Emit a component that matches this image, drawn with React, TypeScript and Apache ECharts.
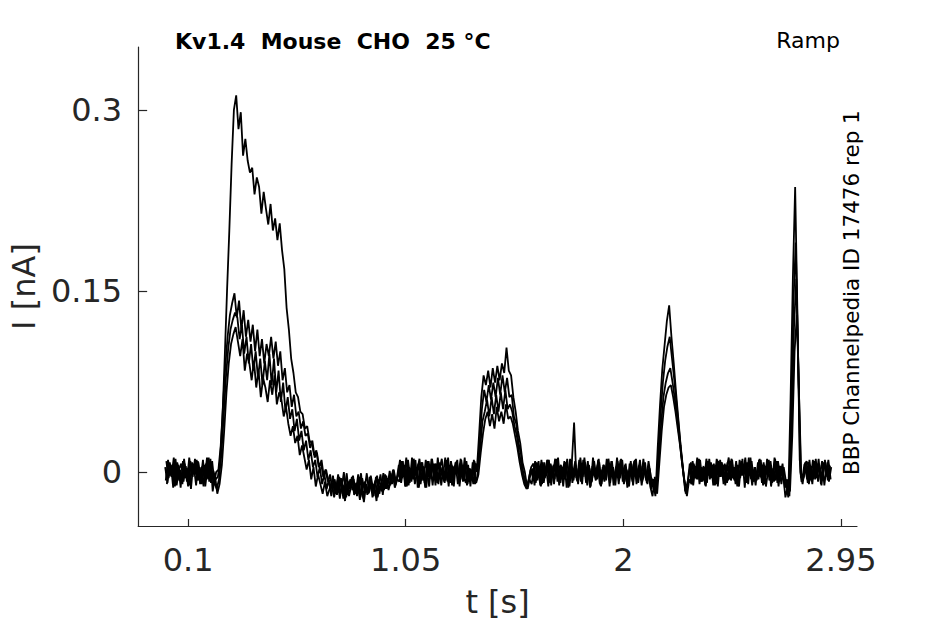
import React, { useEffect, useRef } from "react";
import * as echarts from "echarts";

// ---- axis ticks & labels ----
const X_TICKS = [0.1, 1.05, 2, 2.95];
const Y_TICKS = [0, 0.15, 0.3];
const X_MIN = -0.118;
const X_MAX = 3.02;
const Y_MIN = -0.0447;
const Y_MAX = 0.352;

const TITLE = "Kv1.4  Mouse  CHO  25 °C";
const PROTOCOL = "Ramp";
const SOURCE = "BBP Channelpedia ID 17476 rep 1";
const X_NAME = "t [s]";
const Y_NAME = "I [nA]";

// ---- acquisition timing (s) ----
const SAMPLE_STEP = 0.01;
const SWEEP_START = [0, 0.0025, 0.005, 0.0075];
// start time of each recorded stretch: pre, ramp-1, post-1, base, ramp-2, base, ramp-3, base, ramp-4, tail
const SEGMENT_START = [0, 0.23, 0.72, 1.02, 1.36, 1.6, 2.13, 2.29, 2.71, 2.8];

// ---- current (pA) read from the recording, one list of stretches per sweep ----
const SWEEP_1_PA = [
  [4, -9, 8, -3, 10, -11, 2, 7, -8, 5, -12, 9, -4, 11, -7, 3, -10, 6, -5, 12, -9, 1, -6],
  [-4, 10, 45, 95, 150, 200, 255, 300, 312, 284, 298, 262, 276, 258, 248, 252, 230, 244, 236, 214,
    232, 218, 205, 222, 200, 210, 192, 206, 184, 168, 136, 118, 94, 82, 66, 62, 50, 48, 36, 38,
    26, 24, 14, 18, 4, 8, -4, 2, -8],
  [-2, -16, -6, -19, -4, -14, 0, -21, -8, -13, -3, -18, -10, -23, -5, -15, -1, -17, -9, -20,
    -4, -12, -2, -19, -2, -12, 1, -10, -4, -7],
  [6, -9, 3, -12, 10, -5, 8, -10, 1, 11, -7, 4, -13, 9, -3, 7, -11, 12, -6, 2,
    -9, 10, -4, 6, -12, 8, -2, 11, -8, 5, -10, 3, -6, 9],
  [0, 30, 62, 80, 72, 84, 70, 86, 74, 88, 76, 90, 82, 103, 84, 80, 62, 50, 34, 24, 8, 0, -12, -6],
  [-10, 4, -7, 9, -12, 6, -3, 10, -9, 2, -6, 11, -11, 5, -4, 8, -13, 7, -2, 9,
    -8, 3, -10, 12, -5, 6, -9, 1, -7, 10, -11, 4, -3, 8, -12, 9, -6, 5, -10, 11,
    -4, 7, -9, 2, -8, 10, -5, 6, -11, 3, -7, 9, -4],
  [-8, -20, 20, 55, 85, 105, 125, 138, 112, 90, 66, 44, 22, 4, -16, -10],
  [7, -10, 3, -6, 11, -8, 5, -12, 9, -2, 6, -11, 10, -4, 8, -9, 2, 12, -7, 4,
    -10, 6, -5, 11, -13, 8, -3, 9, -8, 1, -6, 10, -11, 5, -4, 7, -9, 12, -6, 3, -10, 4],
  [-8, -21, 60, 160, 236, 130, 10, -8, 6],
  [9, -10, 5, -6, 11, -8, 3, -7, 10, -4, 6],
];

const SWEEP_2_PA = [
  [-7, 10, -3, 6, -12, 8, -1, -9, 11, -5, 4, -14, 7, -2, 9, -10, 5, -6, 12, -8, 3, -11, 0],
  [2, 22, 55, 88, 112, 130, 140, 148, 128, 142, 118, 134, 112, 126, 108, 122, 100, 118, 96, 110,
    90, 106, 96, 112, 94, 108, 88, 100, 76, 86, 66, 72, 54, 64, 46, 50, 36, 42, 30, 32,
    20, 26, 12, 16, 4, 10, -4, 2, -8],
  [-14, -3, -18, -7, -22, -9, -15, -1, -20, -11, -6, -17, -2, -21, -12, -8, -19, -4, -16, -10,
    -24, -6, -13, -1, -14, -5, -11, -1, -13, -6],
  [-8, 9, -4, 12, -11, 3, -6, 10, -13, 5, 8, -9, 2, -12, 11, -5, 7, -10, 4, -3,
    12, -8, 6, -11, 1, 9, -7, 10, -4, -9, 6, -12, 8, -10],
  [-4, 24, 52, 68, 58, 72, 60, 74, 62, 78, 64, 80, 66, 78, 62, 64, 46, 40, 24, 16, 0, -8, -14, -4],
  [3, -11, 8, -5, 10, -9, 4, -12, 7, -2, 11, -8, 5, -6, 9, -13, 2, 10, -7, 6,
    -10, 12, -4, 8, -11, 3, -8, 9, -5, 11, -12, 6, -2, 10, -9, 4, -7, 12, -6, 8,
    -10, 1, -5, 9, -11, 7, -3, 10, -8, 5, -9, 2, -14],
  [-6, -16, 16, 48, 74, 92, 104, 112, 94, 76, 56, 36, 16, -2, -18, -8],
  [-8, 9, -5, 12, -10, 4, -7, 11, -3, 8, -11, 6, -12, 10, -4, 7, -9, 3, 11, -6,
    9, -10, 5, -2, 12, -8, 6, -11, 4, -7, 10, -5, 8, -12, 2, 9, -6, 11, -9, 5, -3, -8],
  [-10, -18, 50, 140, 190, 100, 0, -10, 4],
  [-6, 10, -8, 7, -5, 11, -10, 4, 8, -7, 5],
];

const SWEEP_3_PA = [
  [9, -5, 6, -13, 11, -7, 2, -10, 7, -8, 12, -3, 5, -11, 8, -6, 10, -12, 4, -2, 9, -9, -14],
  [-6, 14, 45, 78, 102, 118, 126, 132, 128, 110, 122, 98, 112, 90, 106, 84, 100, 78, 94, 72,
    92, 76, 98, 72, 94, 66, 84, 58, 74, 50, 62, 44, 52, 34, 44, 26, 34, 18, 26, 10,
    18, 4, 10, -4, 4, -10, -2, -14, -6],
  [-20, -8, -16, -2, -18, -11, -24, -7, -14, -4, -19, -9, -13, -1, -22, -10, -17, -5, -21, -12,
    -3, -18, -8, -15, -3, -15, -7, 2, -11, -4],
  [10, -5, 6, -12, 4, -8, 11, -3, 7, -10, 5, -13, 9, -6, 11, -4, 1, 8, -11, 3,
    -7, 12, -9, 5, -2, 10, -12, 6, -5, 9, -8, 2, -10, 7],
  [4, 20, 42, 50, 60, 46, 62, 48, 64, 50, 66, 52, 68, 52, 56, 50, 38, 30, 16, 6, -6, -12, -8, 2],
  [-4, 9, -7, 5, -10, 8, -3, 10, -11, 6, -2, 12, -9, 4, -6, 11, -12, 7, 41, -5,
    3, -8, 10, -4, 9, -13, 5, -1, -6, 8, -10, 6, -7, 11, -3, 4, -11, 9, -5, 10,
    -8, 2, -12, 7, -4, 11, -9, 5, -6, 8, -10, 3, -12],
  [-10, -14, 12, 40, 62, 74, 82, 86, 74, 60, 44, 28, 10, -6, -14, -4],
  [8, -11, 5, -6, 10, -8, 4, -9, 11, -5, 7, -10, 9, -4, 6, -11, 8, -6, 10, -7,
    2, -12, 9, -3, 5, -10, 12, -8, 4, -5, 11, -9, 6, -2, 10, -12, 3, -7, 9, -4, 7, -13],
  [-6, -20, 40, 120, 160, 80, -4, -6, 8],
  [-9, 6, -10, 9, -4, 6, -11, 8, -2, 10, -6],
];

const SWEEP_4_PA = [
  [-10, 5, -4, 12, -8, 6, -13, 9, -5, 3, -11, 8, -2, 10, -7, 4, -12, 7, -6, 11, -16, -3, -18],
  [-10, 6, 34, 66, 90, 106, 114, 120, 108, 96, 110, 84, 98, 90, 76, 92, 70, 84, 62, 78,
    70, 58, 76, 64, 80, 56, 66, 60, 46, 54, 40, 30, 38, 24, 30, 14, 22, 12, 2, 10,
    -6, 4, -12, -2, -10, -18, -8, -20, -14],
  [-8, -21, -11, -17, -5, -22, -12, -19, -6, -15, -9, -20, -4, -13, -25, -10, -18, -3, -14, -7,
    -21, -11, -16, -4, -14, -4, -9, 2, -8, -1],
  [-6, 9, -12, 5, -9, 12, -5, 4, -13, 8, -7, 10, -4, 6, -11, 7, -9, 2, 11, -8,
    5, -12, 9, -3, 8, -10, 4, -6, 12, -11, 3, -7, 10, -9],
  [-2, 16, 32, 44, 50, 38, 48, 36, 54, 42, 50, 40, 56, 44, 46, 40, 30, 20, 8, -2, -10, -14, -6, 4],
  [7, -9, 4, -11, 8, -5, 10, -7, 5, -10, 9, -4, 6, -12, 8, -6, 11, -9, 3, -7,
    10, -5, 7, -9, 5, -12, 12, -3, 6, -10, 2, -8, 11, -6, 9, -11, 4, -4, 10, -8,
    6, -13, 7, -2, 9, -10, 5, -7, 11, -5, 3, -12, -20],
  [-4, -18, 8, 34, 54, 64, 70, 72, 62, 50, 36, 22, 6, -8, -20, -6],
  [-10, 7, -5, 10, -8, 3, -11, 9, -6, 5, -9, 11, -4, 8, -10, 6, -7, 9, -5, 4,
    -12, 10, -3, 7, -9, 12, -6, 2, -11, 8, -4, 6, -10, 11, -7, 3, -8, 9, -12, 5, -2, -21],
  [-12, -16, 30, 100, 130, 60, -8, -4, 6],
  [8, -7, 10, -6, 7, -3, 9, -11, 5, -8, 4],
];

const SWEEPS = [SWEEP_1_PA, SWEEP_2_PA, SWEEP_3_PA, SWEEP_4_PA];
const PA_PER_NA = 1000;

const FONT = "DejaVu Sans";
const AXIS_COLOR = "#262626";

function fmt(v: number) {
  return String(Math.round(v * 1000) / 1000);
}

function sweepPoints(segments: number[][], k: number) {
  const pts: [number, number][] = [];
  segments.forEach((seg, j) => {
    seg.forEach((pa, i) => {
      pts.push([SWEEP_START[k] + SEGMENT_START[j] + i * SAMPLE_STEP, pa / PA_PER_NA]);
    });
  });
  return pts;
}

export default function App() {
  const ref = useRef<HTMLDivElement>(null);

  useEffect(() => {
    document.body.style.margin = "0";
    const chart = echarts.init(ref.current as HTMLDivElement, null, { renderer: "svg" });

    const series = SWEEPS.map((segs, k) => ({
      type: "line",
      data: sweepPoints(segs, k),
      symbol: "none",
      showSymbol: false,
      silent: true,
      lineStyle: { color: "#000000", width: 1.8 },
      z: 2,
    }));

    chart.setOption({
      animation: false,
      backgroundColor: "#ffffff",
      grid: { left: 138, right: 88, top: 47, bottom: 98 },
      xAxis: {
        type: "value",
        min: X_MIN,
        max: X_MAX,
        axisLine: { show: true, onZero: false, lineStyle: { color: AXIS_COLOR, width: 1.2 } },
        axisTick: {
          show: true,
          inside: true,
          length: 7,
          customValues: X_TICKS,
          lineStyle: { color: AXIS_COLOR, width: 1.2 },
        },
        axisLabel: {
          customValues: X_TICKS,
          formatter: (v: number) => fmt(v),
          fontFamily: FONT,
          fontSize: 32,
          color: AXIS_COLOR,
          margin: 18,
        },
        splitLine: { show: false },
        name: X_NAME,
        nameLocation: "middle",
        nameGap: 60,
        nameTextStyle: { fontFamily: FONT, fontSize: 32, color: AXIS_COLOR },
      },
      yAxis: {
        type: "value",
        min: Y_MIN,
        max: Y_MAX,
        axisLine: { show: true, onZero: false, lineStyle: { color: AXIS_COLOR, width: 1.2 } },
        axisTick: {
          show: true,
          inside: true,
          length: 9,
          customValues: Y_TICKS,
          lineStyle: { color: AXIS_COLOR, width: 1.2 },
        },
        axisLabel: {
          customValues: Y_TICKS,
          formatter: (v: number) => fmt(v),
          fontFamily: FONT,
          fontSize: 32,
          color: AXIS_COLOR,
          margin: 16,
        },
        splitLine: { show: false },
        name: Y_NAME,
        nameLocation: "middle",
        nameGap: 97,
        nameTextStyle: { fontFamily: FONT, fontSize: 32, color: AXIS_COLOR },
      },
      graphic: [
        {
          type: "text",
          x: 175,
          y: 41,
          style: {
            text: TITLE,
            font: `bold 22px "${FONT}"`,
            fill: "#000000",
            textAlign: "left",
            textVerticalAlign: "middle",
          },
        },
        {
          type: "text",
          x: 840,
          y: 40,
          style: {
            text: PROTOCOL,
            font: `22px "${FONT}"`,
            fill: "#000000",
            textAlign: "right",
            textVerticalAlign: "middle",
          },
        },
        {
          type: "text",
          x: 851,
          y: 475,
          rotation: Math.PI / 2,
          style: {
            text: SOURCE,
            font: `21.5px "${FONT}"`,
            fill: "#000000",
            textAlign: "left",
            textVerticalAlign: "middle",
          },
        },
      ],
      series,
    });

    return () => chart.dispose();
  }, []);

  return <div ref={ref} style={{ width: 945, height: 624 }} />;
}
